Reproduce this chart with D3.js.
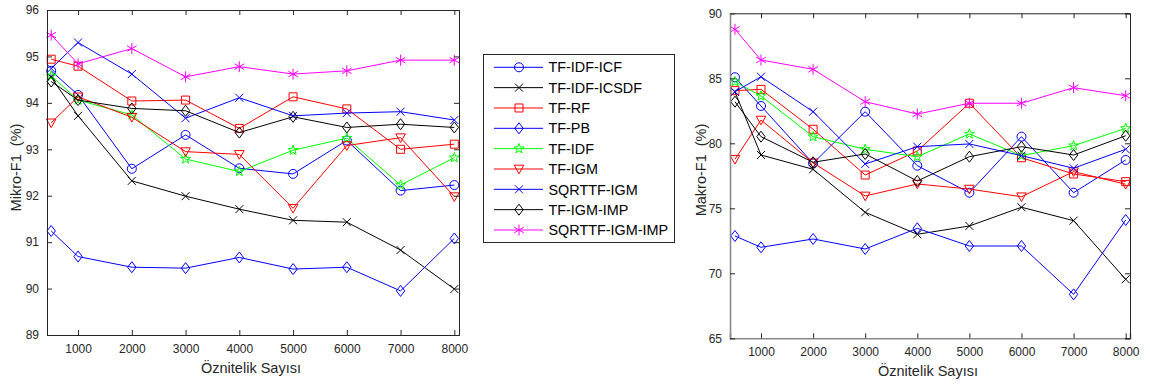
<!DOCTYPE html>
<html><head><meta charset="utf-8">
<script src="https://cdn.jsdelivr.net/npm/d3@7"></script>
<style>
html,body{margin:0;padding:0;background:#fff;}
svg{display:block;font-family:"Liberation Sans",Arial,sans-serif;}
</style></head><body>
<svg id="chart" width="1150" height="385"></svg>
<script>
// ---- data ----
const featureCounts = [500, 1000, 2000, 3000, 4000, 5000, 6000, 7000, 8000];
const xTickValues = [1000, 2000, 3000, 4000, 5000, 6000, 7000, 8000];
const microTicks = [89, 90, 91, 92, 93, 94, 95, 96];
const macroTicks = [65, 70, 75, 80, 85, 90];
const seriesNames = ["TF-IDF-ICF", "TF-IDF-ICSDF", "TF-RF", "TF-PB", "TF-IDF", "TF-IGM", "SQRTTF-IGM", "TF-IGM-IMP", "SQRTTF-IGM-IMP"];

// Mikro-F1 (%)
const microTfIdfIcf    = [94.69, 94.17, 92.58, 93.31, 92.59, 92.47, 93.19, 92.11, 92.23];
const microTfIdfIcsdf  = [94.55, 93.72, 92.32, 91.99, 91.71, 91.47, 91.43, 90.83, 89.99];
const microTfRf        = [94.94, 94.79, 94.04, 94.06, 93.45, 94.13, 93.87, 93.00, 93.11];
const microTfPb        = [91.24, 90.69, 90.46, 90.44, 90.67, 90.42, 90.46, 89.95, 91.08];
const microTfIdf       = [94.58, 94.06, 93.74, 92.79, 92.52, 92.98, 93.24, 92.23, 92.82];
const microTfIgm       = [93.57, 94.13, 93.69, 92.95, 92.89, 91.73, 93.08, 93.25, 91.98];
const microSqrtIgm     = [94.74, 95.30, 94.62, 93.67, 94.11, 93.72, 93.78, 93.81, 93.63];
const microTfIgmImp    = [94.46, 94.06, 93.88, 93.83, 93.36, 93.70, 93.47, 93.54, 93.47];
const microSqrtIgmImp  = [95.46, 94.84, 95.17, 94.56, 94.78, 94.62, 94.69, 94.92, 94.92];

// Makro-F1 (%)
const macroTfIdfIcf    = [85.08, 82.87, 78.46, 82.43, 78.28, 76.20, 80.51, 76.20, 78.72];
const macroTfIdfIcsdf  = [83.95, 79.10, 78.00, 74.69, 73.00, 73.64, 75.08, 74.05, 69.54];
const macroTfRf        = [84.05, 84.15, 81.08, 77.56, 79.41, 83.08, 78.89, 77.64, 77.05];
const macroTfPb        = [72.87, 72.00, 72.64, 71.87, 73.46, 72.10, 72.10, 68.38, 74.10];
const macroTfIdf       = [84.74, 83.64, 80.51, 79.54, 78.97, 80.72, 79.05, 79.82, 81.15];
const macroTfIgm       = [78.77, 81.79, 78.50, 75.95, 76.87, 76.48, 75.89, 77.82, 76.85];
const macroSqrtIgm     = [83.97, 85.12, 82.43, 78.41, 79.74, 79.95, 79.05, 78.08, 79.54];
const macroTfIgmImp    = [83.20, 80.51, 78.54, 79.18, 77.10, 78.97, 79.74, 79.10, 80.58];
const macroSqrtIgmImp  = [88.77, 86.41, 85.69, 83.20, 82.25, 83.08, 83.08, 84.28, 83.66];

const microSeries = [microTfIdfIcf, microTfIdfIcsdf, microTfRf, microTfPb, microTfIdf, microTfIgm, microSqrtIgm, microTfIgmImp, microSqrtIgmImp];
const macroSeries = [macroTfIdfIcf, macroTfIdfIcsdf, macroTfRf, macroTfPb, macroTfIdf, macroTfIgm, macroSqrtIgm, macroTfIgmImp, macroSqrtIgmImp];

// ---- styles ----
const colors = ["#0000ff", "#000000", "#ff0000", "#0000ff", "#00ff00", "#ff0000", "#0000ff", "#000000", "#ff00ff"];
const markers = ["circle", "x", "square", "diamond", "star", "triangleDown", "x", "diamond", "asterisk"];

function markerPath(type) {
  switch (type) {
    case "circle": { const r = 4.5; return `M${r},0A${r},${r} 0 1,1 ${-r},0A${r},${r} 0 1,1 ${r},0Z`; }
    case "x": return "M-4,-4L4,4M-4,4L4,-4";
    case "square": return "M-4,-4L4,-4L4,4L-4,4Z";
    case "diamond": return "M0,-5.5L4.2,0L0,5.5L-4.2,0Z";
    case "triangleDown": return "M-4.8,-3.8L4.8,-3.8L0,4.8Z";
    case "asterisk": return "M0,-5.5L0,5.5M-4.8,-2.8L4.8,2.8M-4.8,2.8L4.8,-2.8";
    case "star": {
      let p = "";
      for (let i = 0; i < 10; i++) {
        const r = i % 2 === 0 ? 5.2 : 2.1;
        const a = -Math.PI / 2 + i * Math.PI / 5;
        p += (i === 0 ? "M" : "L") + (r * Math.cos(a)).toFixed(2) + "," + (r * Math.sin(a)).toFixed(2);
      }
      return p + "Z";
    }
  }
}

const svg = d3.select("#chart");
const textColor = "#262626";

function drawPanel(cfg) {
  const g = svg.append("g");
  const x = d3.scaleLinear().domain(cfg.xDomain).range([cfg.left, cfg.right]);
  const y = d3.scaleLinear().domain(cfg.yDomain).range([cfg.bottom, cfg.top]);
  const tl = 5;

  // series
  const line = d3.line().x((d, i) => x(featureCounts[i])).y(d => y(d));
  cfg.series.forEach((vals, si) => {
    const sg = g.append("g");
    sg.append("path").attr("d", line(vals)).attr("fill", "none")
      .attr("stroke", colors[si]).attr("stroke-width", 1);
    sg.selectAll("path.m").data(vals).enter().append("path").attr("class", "m")
      .attr("d", markerPath(markers[si]))
      .attr("transform", (d, i) => `translate(${x(featureCounts[i])},${y(d)})`)
      .attr("fill", "none").attr("stroke", colors[si]).attr("stroke-width", 1);
  });

  // axes: bottom & left with labels, top & right plain, ticks inside
  const axisBottom = d3.axisBottom(x).tickValues(xTickValues).tickSize(-tl).tickPadding(9).tickFormat(d3.format("d"));
  const axisTop = d3.axisTop(x).tickValues(xTickValues).tickSize(-tl).tickFormat("");
  const axisLeft = d3.axisLeft(y).tickValues(cfg.yTicks).tickSize(-tl).tickPadding(8).tickFormat(d3.format("d"));
  const axisRight = d3.axisRight(y).tickValues(cfg.yTicks).tickSize(-tl).tickFormat("");

  const ab = g.append("g").attr("transform", `translate(0,${cfg.bottom})`).call(axisBottom);
  const at = g.append("g").attr("transform", `translate(0,${cfg.top})`).call(axisTop);
  const al = g.append("g").attr("transform", `translate(${cfg.left},0)`).call(axisLeft);
  const ar = g.append("g").attr("transform", `translate(${cfg.right},0)`).call(axisRight);
  [ab, at, al, ar].forEach(a => {
    a.select(".domain").attr("stroke", "#262626").attr("stroke-width", 1);
    a.selectAll(".tick line").attr("stroke", "#262626");
    a.selectAll(".tick text").attr("fill", textColor).attr("font-size", 12)
      .attr("font-family", "'Liberation Sans', Arial, sans-serif");
  });
  if (cfg.grayAxes) {
    [ab, al].forEach(a => a.select(".domain").attr("stroke", "#8a8a8a").attr("stroke-width", 1.6));
  }

  g.append("text").attr("x", (cfg.left + cfg.right) / 2 - 2).attr("y", cfg.bottom + 38)
    .attr("text-anchor", "middle").attr("fill", textColor).attr("font-size", 14.5)
    .text("Öznitelik Sayısı");
  g.append("text").attr("transform", `translate(${cfg.yTitleX},${cfg.yTitleY}) rotate(-90)`)
    .attr("text-anchor", "middle").attr("fill", textColor).attr("font-size", 14.5)
    .attr("xml:space", "preserve").style("white-space", "pre")
    .text(cfg.yTitle);
}

drawPanel({
  left: 47, right: 459, top: 10, bottom: 335,
  xDomain: [422, 8087], yDomain: [89, 96], yTicks: microTicks,
  series: microSeries, yTitle: "Mikro-F1  (%)", yTitleX: 21, yTitleY: 167.5
});
drawPanel({
  left: 730, right: 1130, top: 13.3, bottom: 338.3,
  xDomain: [405, 8083], yDomain: [65, 90], yTicks: macroTicks,
  series: macroSeries, yTitle: "Makro-F1  (%)", yTitleX: 706, yTitleY: 170, grayAxes: true
});

// legend
const lg = svg.append("g");
const lgX = 483.5, lgY = 54.5, lgW = 191, lgH = 188;
lg.append("rect").attr("x", lgX).attr("y", lgY).attr("width", lgW).attr("height", lgH)
  .attr("fill", "#fff").attr("stroke", "#262626").attr("stroke-width", 1);
const ly = d3.scaleLinear().domain([0, seriesNames.length - 1]).range([67.3, 230]);
seriesNames.forEach((name, i) => {
  const yy = ly(i);
  lg.append("line").attr("x1", 494).attr("x2", 543).attr("y1", yy).attr("y2", yy)
    .attr("stroke", colors[i]).attr("stroke-width", 1);
  lg.append("path").attr("d", markerPath(markers[i])).attr("transform", `translate(519,${yy})`)
    .attr("fill", "none").attr("stroke", colors[i]);
  lg.append("text").attr("x", 548.5).attr("y", yy).attr("dy", "0.36em")
    .attr("font-size", 14.4).attr("fill", "#000").text(name);
});
</script>
</body></html>
